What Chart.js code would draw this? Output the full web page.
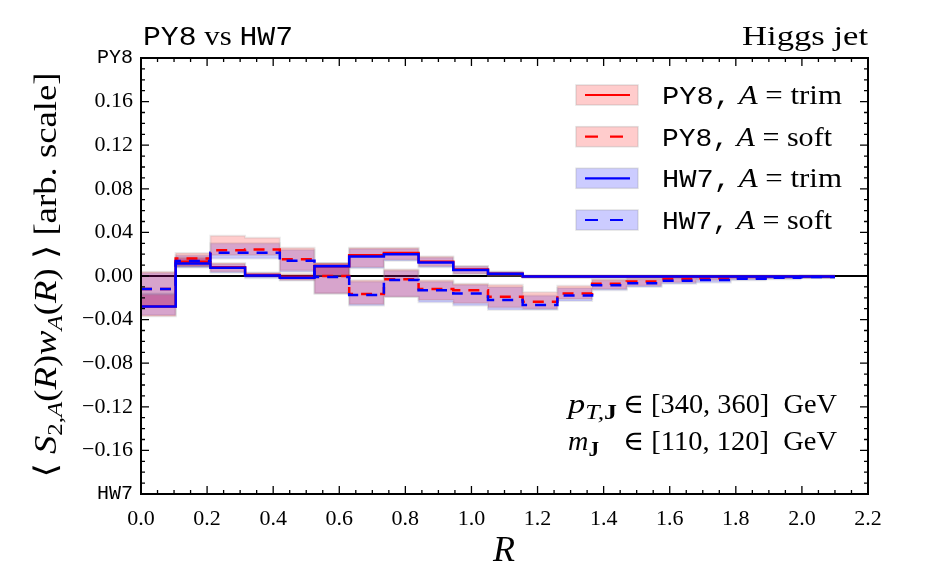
<!DOCTYPE html>
<html>
<head>
<meta charset="utf-8">
<script src="https://cdn.jsdelivr.net/npm/chart.js@4.4.1/dist/chart.umd.min.js"></script>
<style>
  html, body { margin: 0; padding: 0; background: #fff; }
</style>
</head>
<body>
<canvas id="chart" width="945" height="578"></canvas>
<script>
// bin edges in R (20 bins)
const binEdges = [0, 0.105, 0.21, 0.315, 0.42, 0.525, 0.63, 0.735, 0.84, 0.945, 1.05,
                  1.155, 1.26, 1.365, 1.47, 1.575, 1.68, 1.785, 1.89, 1.995, 2.1];

// PY8, A = trim
const pyTrim   = [-0.028, 0.013, 0.008, 0.001, -0.001, 0.009, 0.019, 0.021, 0.013, 0.006, 0.002, -0.0005, -0.0005, -0.0005, -0.0005, -0.0005, -0.0005, -0.0005, -0.0005, -0.0005];
const pyTrimHi = [-0.017, 0.017, 0.012, 0.003, 0.002, 0.012, 0.026, 0.026, 0.018, 0.009, 0.004, 0.0005, 0.0005, 0.0005, 0.0005, 0.0005, 0.0005, 0.0005, 0.0005, 0.0005];
const pyTrimLo = [-0.037, 0.009, 0.004, -0.001, -0.004, 0.001, 0.008, 0.015, 0.009, 0.002, 0.000, -0.0015, -0.0015, -0.0015, -0.0015, -0.0015, -0.0015, -0.0015, -0.0015, -0.0015];

// PY8, A = soft
const pySoft   = [-0.012, 0.016, 0.0236, 0.0242, 0.0153, 0.0, -0.0166, -0.003, -0.012, -0.013, -0.019, -0.0236, -0.016, -0.007, -0.005, -0.003, -0.002, -0.0015, -0.001, -0.0005];
const pySoftHi = [0.004, 0.021, 0.037, 0.035, 0.026, 0.012, -0.004, 0.006, -0.004, -0.007, -0.008, -0.015, -0.009, -0.003, -0.002, -0.001, 0.0, 0.0, 0.0, 0.0005];
const pySoftLo = [-0.028, 0.009, 0.019, 0.019, 0.005, -0.016, -0.026, -0.019, -0.022, -0.025, -0.029, -0.030, -0.021, -0.012, -0.009, -0.006, -0.004, -0.003, -0.002, -0.0015];

// HW7, A = trim
const hwTrim   = [-0.028, 0.0115, 0.0075, 0.0005, -0.0015, 0.009, 0.018, 0.020, 0.0125, 0.0055, 0.002, -0.0005, -0.0005, -0.0005, -0.0005, -0.0005, -0.0005, -0.0005, -0.0005, -0.0005];
const hwTrimHi = [-0.016, 0.016, 0.011, 0.003, 0.001, 0.011, 0.025, 0.025, 0.017, 0.009, 0.004, 0.0005, 0.0005, 0.0005, 0.0005, 0.0005, 0.0005, 0.0005, 0.0005, 0.0005];
const hwTrimLo = [-0.036, 0.008, 0.003, -0.002, -0.004, 0.0, 0.007, 0.014, 0.008, 0.002, 0.0, -0.0015, -0.0015, -0.0015, -0.0015, -0.0015, -0.0015, -0.0015, -0.0015, -0.0015];

// HW7, A = soft
const hwSoft   = [-0.012, 0.0138, 0.0214, 0.0214, 0.014, -0.001, -0.0175, -0.0037, -0.013, -0.016, -0.022, -0.0267, -0.018, -0.0086, -0.0067, -0.0043, -0.0037, -0.0025, -0.0015, -0.001];
const hwSoftHi = [0.003, 0.019, 0.030, 0.030, 0.024, 0.011, -0.005, 0.005, -0.005, -0.008, -0.010, -0.018, -0.011, -0.004, -0.003, -0.002, -0.001, -0.001, 0.0, 0.0];
const hwSoftLo = [-0.028, 0.008, 0.016, 0.016, 0.004, -0.016, -0.027, -0.019, -0.024, -0.027, -0.031, -0.031, -0.023, -0.013, -0.010, -0.007, -0.006, -0.004, -0.003, -0.002];

const xTicks = [0, 0.2, 0.4, 0.6, 0.8, 1.0, 1.2, 1.4, 1.6, 1.8, 2.0, 2.2];
const yTicks = [-0.2, -0.16, -0.12, -0.08, -0.04, 0, 0.04, 0.08, 0.12, 0.16, 0.2];

const SERIF = '"Liberation Serif", "DejaVu Serif", serif';
const MONO = '"Liberation Mono", "DejaVu Sans Mono", monospace';
const RED_BAND = 'rgba(255,0,0,0.2)';
const BLUE_BAND = 'rgba(0,0,255,0.2)';

// histogram as step points: left edges + closing right edge
function steps(vals) {
    const pts = vals.map((v, i) => ({ x: binEdges[i], y: v }));
    pts.push({ x: binEdges[vals.length], y: vals[vals.length - 1] });
    return pts;
}

function lineSet(vals, color, dashed, order) {
    return {
        data: steps(vals), stepped: 'before', borderColor: color, borderWidth: 2.5,
        borderDash: dashed ? [11, 8] : [], pointRadius: 0, fill: false, order: order
    };
}

function bandSet(vals, color, isUpper) {
    return {
        data: steps(vals), stepped: 'before', borderColor: 'rgba(140,140,140,0.18)', borderWidth: 2,
        backgroundColor: color, pointRadius: 0, fill: isUpper ? '+1' : false, order: 10
    };
}

// draw a run of text pieces, optionally stretched to a given width
function drawRuns(ctx, runs, x, y, align, width) {
    let w = 0;
    runs.forEach(r => { ctx.font = r.f; r.w = ctx.measureText(r.t).width; w += r.w; });
    const sx = width ? width / w : 1;
    const x0 = align === 'right' ? x - w * sx : align === 'center' ? x - w * sx / 2 : x;
    ctx.save();
    ctx.translate(x0, y);
    ctx.scale(sx, 1);
    ctx.textAlign = 'left';
    ctx.textBaseline = 'alphabetic';
    ctx.fillStyle = '#000';
    let cx = 0;
    runs.forEach(r => { ctx.font = r.f; ctx.fillText(r.t, cx, r.dy || 0); cx += r.w; });
    ctx.restore();
}

const legendItems = [
    { name: 'PY8', kind: 'trim', color: '#ff0000', band: RED_BAND, dashed: false, width: 180 },
    { name: 'PY8', kind: 'soft', color: '#ff0000', band: RED_BAND, dashed: true, width: 170 },
    { name: 'HW7', kind: 'trim', color: '#0000ff', band: BLUE_BAND, dashed: false, width: 180 },
    { name: 'HW7', kind: 'soft', color: '#0000ff', band: BLUE_BAND, dashed: true, width: 170 }
];

const decor = {
    id: 'decor',
    afterDraw(chart) {
        const ctx = chart.ctx;
        const a = chart.chartArea;
        const xs = chart.scales.x, ys = chart.scales.y;

        // inward ticks on all four sides
        ctx.save();
        ctx.strokeStyle = '#000';
        ctx.lineWidth = 1.3;
        ctx.beginPath();
        for (let k = 0; k <= 44; k++) {
            const px = xs.getPixelForValue(k * 0.05);
            const len = k % 4 === 0 ? 8 : 4;
            ctx.moveTo(px, a.bottom); ctx.lineTo(px, a.bottom - len);
            ctx.moveTo(px, a.top); ctx.lineTo(px, a.top + len);
        }
        for (let k = 0; k <= 40; k++) {
            const py = ys.getPixelForValue(-0.2 + k * 0.01);
            const len = k % 4 === 0 ? 8 : 4;
            ctx.moveTo(a.left, py); ctx.lineTo(a.left + len, py);
            ctx.moveTo(a.right, py); ctx.lineTo(a.right - len, py);
        }
        ctx.stroke();
        ctx.lineWidth = 2;
        ctx.strokeRect(a.left, a.top, a.right - a.left, a.bottom - a.top);
        ctx.restore();

        // titles
        drawRuns(ctx, [
            { t: 'PY8', f: '27px ' + MONO },
            { t: ' vs ', f: '28px ' + SERIF },
            { t: 'HW7', f: '27px ' + MONO }
        ], 143, 45, 'left', 150);
        drawRuns(ctx, [{ t: 'Higgs jet', f: '28px ' + SERIF }], 868, 45, 'right', 126);

        // x axis title
        drawRuns(ctx, [{ t: 'R', f: 'italic 36px ' + SERIF }], 504, 561, 'center');

        // y axis title (rotated)
        ctx.save();
        ctx.translate(56, 275);
        ctx.rotate(-Math.PI / 2);
        drawRuns(ctx, [
            { t: '\u27E8 ', f: '31px ' + SERIF },
            { t: 'S', f: 'italic 31px ' + SERIF },
            { t: '2,', f: '21px ' + SERIF, dy: 6 },
            { t: 'A', f: 'italic 21px ' + SERIF, dy: 6 },
            { t: '(', f: '31px ' + SERIF },
            { t: 'R', f: 'italic 31px ' + SERIF },
            { t: ')', f: '31px ' + SERIF },
            { t: 'w', f: 'italic 31px ' + SERIF },
            { t: 'A', f: 'italic 21px ' + SERIF, dy: 6 },
            { t: '(', f: '31px ' + SERIF },
            { t: 'R', f: 'italic 31px ' + SERIF },
            { t: ') \u27E9 [arb. scale]', f: '31px ' + SERIF }
        ], 0, 0, 'center', 405);
        ctx.restore();

        // legend
        const rowY = [95, 136.7, 178.3, 220];
        legendItems.forEach((it, i) => {
            const cy = rowY[i];
            ctx.save();
            ctx.fillStyle = it.band;
            ctx.fillRect(576, cy - 10, 62, 20);
            ctx.strokeStyle = 'rgba(140,140,140,0.25)';
            ctx.lineWidth = 1.5;
            ctx.strokeRect(576, cy - 10, 62, 20);
            ctx.strokeStyle = it.color;
            ctx.lineWidth = 2.2;
            ctx.setLineDash(it.dashed ? [13, 12] : []);
            ctx.beginPath();
            ctx.moveTo(585, cy); ctx.lineTo(630, cy);
            ctx.stroke();
            ctx.restore();
            drawRuns(ctx, [
                { t: it.name + ',', f: '26px ' + MONO },
                { t: ' ', f: '28px ' + SERIF },
                { t: 'A', f: 'italic 28px ' + SERIF },
                { t: ' = ' + it.kind, f: '28px ' + SERIF }
            ], 662, cy + 9, 'left', it.width);
        });

        // kinematic annotations
        drawRuns(ctx, [
            { t: 'p', f: 'italic 28px ' + SERIF },
            { t: 'T,', f: 'italic 21px ' + SERIF, dy: 6 },
            { t: 'J', f: 'bold 21px ' + SERIF, dy: 6 }
        ], 568, 413, 'left', 49);
        drawRuns(ctx, [{ t: '\u2208 [340, 360]  GeV', f: '28px ' + SERIF }], 623, 413, 'left', 214);
        drawRuns(ctx, [
            { t: 'm', f: 'italic 28px ' + SERIF },
            { t: 'J', f: 'bold 21px ' + SERIF, dy: 6 }
        ], 568, 450, 'left', 31);
        drawRuns(ctx, [{ t: '\u2208 [110, 120]  GeV', f: '28px ' + SERIF }], 623, 450, 'left', 214);
    }
};

const isEdge = v => Math.abs(Math.abs(v) - 0.2) < 1e-9;

new Chart(document.getElementById('chart').getContext('2d'), {
    type: 'line',
    data: {
        datasets: [
            lineSet(hwSoft, '#0000ff', true, 1),
            lineSet(hwTrim, '#0000ff', false, 2),
            lineSet(pySoft, '#ff0000', true, 3),
            lineSet(pyTrim, '#ff0000', false, 4),
            bandSet(pyTrimHi, RED_BAND, true), bandSet(pyTrimLo, RED_BAND, false),
            bandSet(pySoftHi, RED_BAND, true), bandSet(pySoftLo, RED_BAND, false),
            bandSet(hwTrimHi, BLUE_BAND, true), bandSet(hwTrimLo, BLUE_BAND, false),
            bandSet(hwSoftHi, BLUE_BAND, true), bandSet(hwSoftLo, BLUE_BAND, false)
        ]
    },
    options: {
        responsive: false,
        animation: false,
        devicePixelRatio: 1,
        layout: { padding: { left: 0, right: 77, top: 58, bottom: 0 } },
        plugins: { legend: { display: false }, tooltip: { enabled: false } },
        scales: {
            x: {
                type: 'linear', min: 0, max: 2.2,
                afterBuildTicks: s => { s.ticks = xTicks.map(v => ({ value: v })); },
                afterFit: s => { s.height = 84; },
                ticks: {
                    callback: v => v.toFixed(1), color: '#000', padding: 12,
                    maxRotation: 0, autoSkip: false,
                    font: { family: SERIF, size: 22 }
                },
                grid: { display: false, drawTicks: false },
                border: { display: false }
            },
            y: {
                type: 'linear', min: -0.2, max: 0.2,
                afterBuildTicks: s => { s.ticks = yTicks.map(v => ({ value: v })); },
                afterFit: s => { s.width = 141; },
                ticks: {
                    color: '#000', padding: 8, autoSkip: false,
                    callback: v => v > 0.19 ? 'PY8' : v < -0.19 ? 'HW7' : (v < 0 ? '\u2212' : '') + Math.abs(v).toFixed(2),
                    font: c => (c.tick && isEdge(c.tick.value)) ? { family: MONO, size: 20 } : { family: SERIF, size: 22 }
                },
                grid: {
                    drawTicks: false, lineWidth: 2,
                    color: c => (c.tick && Math.abs(c.tick.value) < 1e-9) ? '#000' : 'rgba(0,0,0,0)'
                },
                border: { display: false }
            }
        }
    },
    plugins: [decor]
});
</script>
</body>
</html>
